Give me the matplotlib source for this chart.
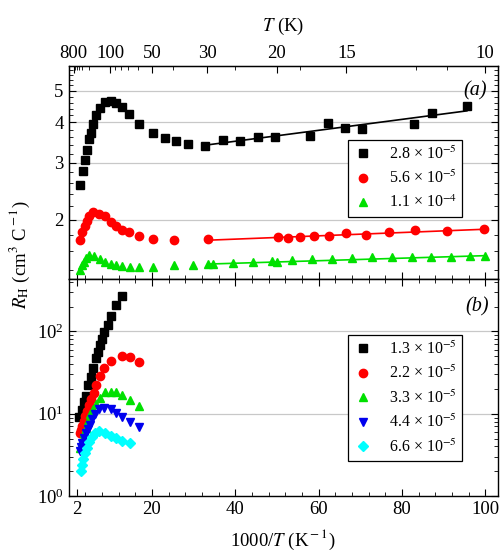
import numpy as np
import matplotlib
matplotlib.use("Agg")
import matplotlib.pyplot as plt

plt.rcParams['font.family'] = 'serif'
plt.rcParams['font.serif'] = ['Liberation Serif', 'DejaVu Serif']
plt.rcParams['mathtext.fontset'] = 'stix'
plt.rcParams['font.size'] = 13.5

# ---- panel (a) data: 1000/T (K^-1) vs R_H (cm^3/C)
a_black_x = [2.81, 3.37, 3.85, 4.33, 4.8, 5.28, 5.86, 6.48, 7.44, 8.64, 10.17, 11.37, 12.8, 14.57,
             16.97, 20.25, 23.2, 25.85, 28.65, 32.8, 36.96, 41.13, 45.36, 49.6, 58.0, 62.16, 66.3,
             70.4, 83.0, 87.3, 95.6]
a_black_y = [2.56, 2.83, 3.07, 3.29, 3.55, 3.71, 3.94, 4.21, 4.43, 4.61, 4.67, 4.60, 4.46, 4.23,
             3.96, 3.70, 3.57, 3.51, 3.43, 3.39, 3.52, 3.50, 3.61, 3.60, 3.63, 3.99, 3.84,
             3.81, 3.96, 4.26, 4.48]
a_red_x = [2.81, 3.29, 3.85, 4.41, 4.97, 5.93, 7.37, 8.64, 10.25, 11.45, 12.8, 14.57, 16.97, 20.25,
           25.2, 33.5, 50.2, 52.6, 55.6, 58.8, 62.6, 66.6, 71.4, 76.8, 83.2, 90.8, 99.8]
a_red_y = [1.73, 1.83, 1.92, 1.99, 2.06, 2.11, 2.09, 2.05, 1.97, 1.92, 1.86, 1.83, 1.78, 1.74,
           1.73, 1.74, 1.77, 1.76, 1.77, 1.78, 1.78, 1.82, 1.80, 1.83, 1.86, 1.85, 1.88]
a_green_x = [2.81, 3.2, 3.6, 4.17, 4.97, 6.17, 7.45, 8.64, 10.25, 11.45, 12.8, 14.65, 16.97, 20.25,
             25.2, 29.85, 33.5, 34.6, 39.4, 44.2, 48.8, 50.0, 53.6, 58.4, 63.2, 68.0, 72.8, 77.6,
             82.4, 87.0, 91.8, 96.4, 100.0]
a_green_y = [1.40, 1.45, 1.48, 1.52, 1.56, 1.55, 1.51, 1.48, 1.46, 1.45, 1.44, 1.43, 1.43, 1.43,
             1.45, 1.45, 1.46, 1.46, 1.47, 1.48, 1.49, 1.48, 1.50, 1.51, 1.51, 1.52, 1.53, 1.53,
             1.53, 1.54, 1.54, 1.55, 1.55]
# straight-line fits drawn in (a): end points
fit_black_x, fit_black_y = [32.8, 95.6], [3.40, 4.34]
fit_red_x, fit_red_y = [33.5, 99.8], [1.73, 1.87]
fit_green_x, fit_green_y = [33.5, 100.0], [1.46, 1.55]
a_labels = ['2.8 × 10$^{-5}$', '5.6 × 10$^{-5}$', '1.1 × 10$^{-4}$']

# ---- panel (b) data
b_black_x = [2.57, 3.12, 3.6, 4.08, 4.73, 5.28, 5.86, 6.48, 7.13, 7.53, 8.0, 8.57, 9.36, 10.25,
             11.37, 12.72]
b_black_y = [9.2, 11.0, 13.8, 16.3, 22.5, 28.1, 35.8, 47.2, 56.9, 67.9, 81.8, 98.6, 121, 154,
             207, 266]
b_red_x = [2.81, 3.05, 3.29, 3.6, 3.93, 4.33, 4.89, 5.37, 6.0, 6.65, 7.44, 8.57, 10.3, 12.72,
           14.65, 16.97]
b_red_y = [5.77, 6.33, 7.08, 8.13, 9.36, 10.8, 12.6, 15.2, 18.0, 22.5, 28.6, 35.8, 44.3, 49.9,
           48.5, 42.7]
b_green_x = [2.81, 3.12, 3.45, 3.77, 4.17, 4.65, 5.21, 5.86, 6.58, 7.44, 8.73, 10.17, 11.37,
             12.72, 14.65, 16.97]
b_green_y = [3.87, 4.45, 5.11, 5.89, 6.76, 8.13, 9.8, 11.3, 13.2, 15.4, 18.3, 18.6, 18.3, 16.7,
             14.6, 12.4]
b_blue_x = [2.65, 2.98, 3.29, 3.69, 4.08, 4.56, 5.04, 5.69, 6.41, 7.37, 8.57, 10.17, 11.37,
            12.72, 14.65, 16.97]
b_blue_y = [3.52, 3.94, 4.45, 5.11, 5.77, 6.45, 7.28, 8.53, 9.8, 11.3, 11.9, 11.3, 10.3, 9.2,
            7.9, 6.95]
b_cyan_x = [2.9, 3.12, 3.45, 3.93, 4.41, 4.97, 5.61, 6.41, 7.37, 8.64, 10.17, 11.37, 12.72, 14.65]
b_cyan_y = [2.01, 2.36, 2.79, 3.30, 3.87, 4.53, 5.20, 5.77, 6.15, 5.89, 5.35, 5.11, 4.66, 4.45]
b_labels = ['1.3 × 10$^{-5}$', '2.2 × 10$^{-5}$', '3.3 × 10$^{-5}$',
            '4.4 × 10$^{-5}$', '6.6 × 10$^{-5}$']

# top axis temperatures
T_major = [800, 100, 50, 30, 20, 15, 10]
T_minor = [700, 600, 500, 400, 300, 200, 90, 80, 70, 60, 40, 25, 18, 12, 11]

green = '#00e000'

fig = plt.figure(figsize=(5, 5.52), dpi=100)
ax1 = fig.add_axes([0.137, 0.494, 0.8584, 0.3864])
ax2 = fig.add_axes([0.137, 0.1014, 0.8584, 0.3926])

ms = 5.5
ax1.plot(a_black_x, a_black_y, 's', color='black', ms=ms, label=a_labels[0], zorder=3)
ax1.plot(a_red_x, a_red_y, 'o', color='red', ms=ms + 0.5, label=a_labels[1], zorder=3)
ax1.plot(a_green_x, a_green_y, '^', color=green, ms=ms + 0.5, label=a_labels[2], zorder=3)
ax1.plot(fit_black_x, fit_black_y, '-', color='black', lw=1.2, zorder=2)
ax1.plot(fit_red_x, fit_red_y, '-', color='red', lw=1.2, zorder=2)
ax1.plot(fit_green_x, fit_green_y, '-', color=green, lw=1.2, zorder=2)

ax2.plot(b_black_x, b_black_y, 's', color='black', ms=ms, label=b_labels[0], zorder=3)
ax2.plot(b_red_x, b_red_y, 'o', color='red', ms=ms + 0.5, label=b_labels[1], zorder=3)
ax2.plot(b_green_x, b_green_y, '^', color=green, ms=ms + 0.5, label=b_labels[2], zorder=3)
ax2.plot(b_blue_x, b_blue_y, 'v', color='#0000ee', ms=ms + 0.5, label=b_labels[3], zorder=3)
ax2.plot(b_cyan_x, b_cyan_y, 'D', color='cyan', ms=ms - 0.5, label=b_labels[4], zorder=3)

for ax in (ax1, ax2):
    ax.set_xlim(0, 103)
    ax.set_yscale('log')
    ax.set_xticks([2, 20, 40, 60, 80, 100])
    ax.set_xticks(np.arange(4, 103, 4), minor=True)
    ax.tick_params(which='both', direction='in', right=True, top=(ax is ax2))
    ax.tick_params(which='major', length=5, width=0.8)
    ax.tick_params(which='minor', length=3, width=0.6)
    ax.yaxis.grid(True, which='major', color='#c8c8c8', lw=0.9)
    ax.set_axisbelow(True)
    for s in ax.spines.values():
        s.set_linewidth(1.0)

ax1.set_ylim(1.31, 5.97)
ax1.set_yticks([2, 3, 4, 5])
ax1.set_yticklabels(['2', '3', '4', '5'])
ax1.set_yticks([v for v in np.arange(1.4, 6.0, 0.2) if abs(v - round(v)) > 0.05], minor=True)
ax1.yaxis.set_minor_formatter(plt.NullFormatter())
ax1.tick_params(labelbottom=False)

ax2.set_ylim(1, 430)
ax2.set_yticks([1, 10, 100])
ax2.set_xlabel('1000/$T$ (K$^{\\rm -1}$)', labelpad=7)

# top temperature axis
axt = ax1.twiny()
axt.set_xlim(ax1.get_xlim())
axt.set_xticks([1000 / t for t in T_major])
axt.set_xticklabels([str(t) for t in T_major])
axt.set_xticks([1000 / t for t in T_minor], minor=True)
axt.tick_params(which='both', direction='in')
axt.tick_params(which='major', length=5, width=0.8, pad=3)
axt.tick_params(which='minor', length=3, width=0.6)
axt.set_xlabel('$T$ (K)', labelpad=10)

leg_kw = dict(loc='upper left', borderaxespad=0, fancybox=False, edgecolor='black',
              framealpha=1, handlelength=1.2, handletextpad=1.0, borderpad=0.35,
              labelspacing=0.45, fontsize=11.5)
leg1 = ax1.legend(bbox_to_anchor=(0.651, 0.653), **leg_kw)
leg1.get_frame().set_linewidth(0.9)
leg2 = ax2.legend(bbox_to_anchor=(0.651, 0.743), **leg_kw)
leg2.get_frame().set_linewidth(0.9)

ax1.text(0.947, 0.883, '(a)', transform=ax1.transAxes, ha='center', va='center',
         fontsize=14.5, fontstyle='italic')
ax2.text(0.953, 0.872, '(b)', transform=ax2.transAxes, ha='center', va='center',
         fontsize=14.5, fontstyle='italic')

fig.text(0.04, 0.538, '$R_{\\rm H}$ (cm$^3$ C$^{\\rm -1}$)', rotation=90, ha='center',
         va='center', fontsize=13.5)

fig.savefig('out.png', dpi=100)
